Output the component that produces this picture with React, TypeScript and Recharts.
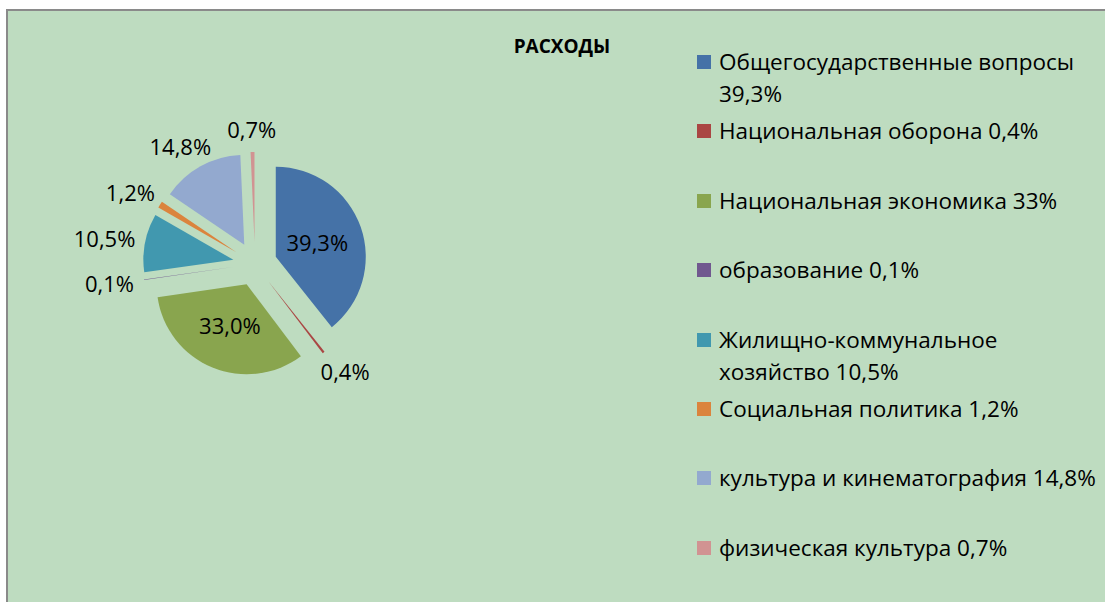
import React from 'react'
import { PieChart, Pie, Cell, Legend, Sector } from 'recharts'

const categories = [
  'Общегосударственные вопросы 39,3%',
  'Национальная оборона 0,4%',
  'Национальная экономика 33%',
  'образование 0,1%',
  'Жилищно-коммунальное хозяйство 10,5%',
  'Социальная политика 1,2%',
  'культура и кинематография 14,8%',
  'физическая культура 0,7%',
]
const shares = [39.3, 0.4, 33.0, 0.1, 10.5, 1.2, 14.8, 0.7]
const COLORS = ['#4572A7', '#AA4643', '#89A54E', '#71588F', '#4198AF', '#DB843D', '#93A9CF', '#D19392']

const data = categories.map((name, i) => ({ name, value: shares[i] }))

const FONT = '"Open Sans", "DejaVu Sans", sans-serif'
const RAD = Math.PI / 180
const EXPLODE = 22

// every slice is pulled out from the centre along its mid angle
function ExplodedSector(props: any) {
  const { cx, cy, midAngle } = props
  const dx = EXPLODE * Math.cos(-midAngle * RAD)
  const dy = EXPLODE * Math.sin(-midAngle * RAD)
  return <Sector {...props} cx={cx + dx} cy={cy + dy} stroke="none" />
}

// big slices get the label inside, small ones sit just outside the rim
function renderLabel(props: any) {
  const { cx, cy, midAngle, value } = props
  const text = value.toFixed(1).replace('.', ',') + '%'
  const ux = Math.cos(-midAngle * RAD)
  const uy = Math.sin(-midAngle * RAD)
  let x, y
  if (value > 20) {
    x = cx + 66 * ux
    y = cy + 66 * uy
  } else {
    const w = text.length * 12.5
    x = cx + 122 * ux + ux * w / 2
    y = cy + 122 * uy + uy * 13
  }
  return (
    <text x={x} y={y} textAnchor="middle" dominantBaseline="central" fill="#000" fontSize={22} fontFamily={FONT}>
      {text}
    </text>
  )
}

function LegendList() {
  return (
    <div style={{ fontFamily: FONT, fontSize: 22.5, lineHeight: '32px', color: '#000' }}>
      {categories.map((name, i) => (
        <div key={i} style={{ display: 'flex', alignItems: 'flex-start', height: 69.4 }}>
          <span style={{ width: 14, height: 14, marginTop: 9, marginRight: 8, background: COLORS[i], flexShrink: 0 }} />
          <span style={{ width: 384, whiteSpace: 'normal' }}>{name}</span>
        </div>
      ))}
    </div>
  )
}

export default function App() {
  return (
    <div style={{ position: 'absolute', left: 0, top: 0, width: 1105, height: 602, overflow: 'hidden', background: '#fff' }}>
      <div style={{ position: 'absolute', left: 6, top: 9, width: 1120, height: 620, background: '#BEDCC0', border: '2px solid #8a8a8a' }} />
      <div style={{ position: 'absolute', left: 462, top: 33, width: 200, textAlign: 'center', fontFamily: FONT, fontWeight: 700, fontSize: 19, color: '#000' }}>
        РАСХОДЫ
      </div>
      <div style={{ position: 'absolute', left: 0, top: 0 }}>
        <PieChart width={1105} height={602}>
          <Pie
            data={data}
            dataKey="value"
            nameKey="name"
            cx={250}
            cy={259}
            outerRadius={90}
            startAngle={90}
            endAngle={-270}
            shape={ExplodedSector}
            activeShape={ExplodedSector}
            inactiveShape={ExplodedSector}
            label={renderLabel}
            labelLine={false}
            isAnimationActive={false}
          >
            {data.map((_, i) => <Cell key={i} fill={COLORS[i]} stroke="none" />)}
          </Pie>
          <Legend
            layout="vertical"
            content={<LegendList />}
            wrapperStyle={{ position: 'absolute', left: 697, top: 46, width: 410 }}
          />
        </PieChart>
      </div>
    </div>
  )
}
